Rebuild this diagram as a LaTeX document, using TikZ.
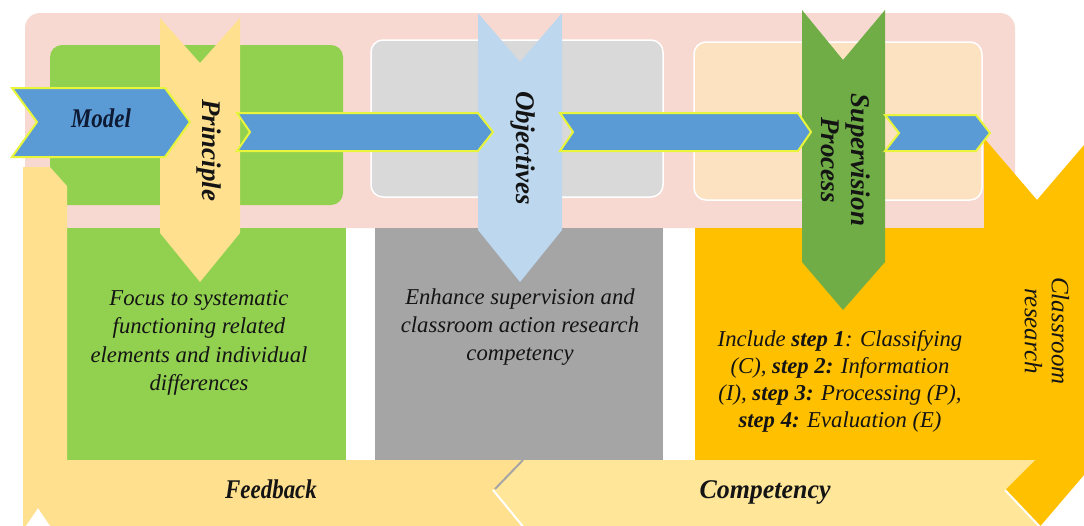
\documentclass[tikz,border=0pt]{standalone}
\usepackage{fontspec}
\setmainfont{Liberation Serif}
\definecolor{bgpink}{HTML}{F8D9D1}
\definecolor{grn}{HTML}{92D050}
\definecolor{dgrn}{HTML}{70AD47}
\definecolor{lgray}{HTML}{D9D9D9}
\definecolor{mgray}{HTML}{A5A5A5}
\definecolor{peach}{HTML}{FDE2C2}
\definecolor{orng}{HTML}{FFC000}
\definecolor{lyel}{HTML}{FFE08F}
\definecolor{cyel}{HTML}{FFE699}
\definecolor{lblue}{HTML}{BDD7EE}
\definecolor{barblue}{HTML}{5B9BD5}
\definecolor{baryel}{HTML}{E8F53A}
\definecolor{txt}{HTML}{141414}
\definecolor{navy}{HTML}{0E1A33}
\newcommand\bodyfnt{\fontsize{22.7}{28.3}\selectfont\itshape}
\newcommand\lblfnt{\fontsize{27}{30}\selectfont\bfseries\itshape}
\tikzset{
  bluebar/.style={fill=barblue, draw=baryel, line width=2pt},
  upbox/.style={draw=white, line width=1.5pt, rounded corners=12pt},
  vlabel/.style={rotate=-90, font=\lblfnt, text=txt, align=center, inner sep=0pt},
  hlabel/.style={font=\lblfnt, text=txt, inner sep=0pt},
  bodytext/.style={font=\bodyfnt, text=txt, align=center, inner sep=0pt}
}
\begin{document}
\begin{tikzpicture}[x=1pt,y=-1pt]
\useasboundingbox (0,0) rectangle (1084,525);
\clip (0,0) rectangle (1084,525);
\fill[white] (0,0) rectangle (1084,525);
% background
\fill[bgpink, rounded corners=15pt] (25,13) rectangle (1015,228);
% upper boxes
\fill[grn, rounded corners=12pt] (50,45) rectangle (343,205);
\filldraw[upbox, fill=lgray] (371,40) rectangle (663,197);
\filldraw[upbox, fill=peach] (694,42) rectangle (982,200);
% lower boxes
\fill[grn] (67,228) rectangle (346,460);
\fill[mgray] (375,228) rectangle (663,460);
\fill[orng] (695,228) rectangle (990,460);
% classroom research chevron
\fill[orng] (984,138) -- (1037,200) -- (1090,138) -- (1090,468) -- (1037,530) -- (984,468) -- cycle;
% feedback bent band
\fill[lyel] (23,167) -- (50,167) -- (67,186) -- (67,460) -- (540,460) -- (540,530) -- (53,530) -- (38,508) -- (23,530) -- cycle;
% competency band
\fill[cyel] (493,490) -- (523,460) -- (1035,460) -- (1005,490) -- (1042,529) -- (523,529) -- cycle;
\draw[mgray, line width=2pt] (495,489) -- (523,460);
\draw[white, line width=2pt] (493,490) -- (525,529);
\draw[white, line width=2pt] (1005,490) -- (1042,529);
% vertical chevrons
\fill[lyel] (160,18) -- (200,63) -- (240,18) -- (240,233) -- (200,282) -- (160,233) -- cycle;
\fill[lblue] (478,13) -- (520,62) -- (562,13) -- (562,230) -- (520,282) -- (478,230) -- cycle;
\fill[dgrn] (802,10) -- (843,60) -- (885,10) -- (885,262) -- (843,310) -- (802,262) -- cycle;
% blue bars
\draw[bluebar] (12,88) -- (165,88) -- (190,122) -- (165,157) -- (12,157) -- (37,122) -- cycle;
\draw[bluebar] (237,113) -- (478,113) -- (493,132) -- (478,151) -- (237,151) -- (250,132) -- cycle;
\draw[bluebar] (560,113) -- (798,113) -- (811,132) -- (798,151) -- (560,151) -- (573,132) -- cycle;
\draw[bluebar] (885,115) -- (976,115) -- (990,133) -- (976,151) -- (885,151) -- (899,133) -- cycle;
% labels
\node[hlabel, text=navy] (model) at (101,118) {\scalebox{0.85}[1]{Model}};
\node[vlabel] (principle) at (209,150) {Principle};
\node[vlabel] (objectives) at (523,148) {Objectives};
\node[vlabel] (supervision) at (846,160) {Supervision\\Process};
\node[rotate=-90, font=\fontsize{25}{27}\selectfont\itshape, text=txt, align=center, inner sep=0pt] (classroom) at (1047,331) {Classroom\\research};
\node[hlabel] (feedback) at (271,489) {\scalebox{0.85}[1]{Feedback}};
\node[hlabel] (competency) at (765,492) {\scalebox{0.96}[1]{Competency}};
% body texts
\node[bodytext] (focus) at (199,343) {Focus to systematic\\functioning related\\elements and individual\\differences};
\node[bodytext] (enhance) at (520,327) {Enhance supervision and\\classroom action research\\competency};
\node[bodytext, font=\fontsize{22.7}{27}\selectfont\itshape] (include) at (840,381) {Include \textbf{step 1}: Classifying\\(C), \textbf{step 2:} Information\\(I), \textbf{step 3:} Processing (P),\\\textbf{step 4:} Evaluation (E)};
\end{tikzpicture}
\end{document}
